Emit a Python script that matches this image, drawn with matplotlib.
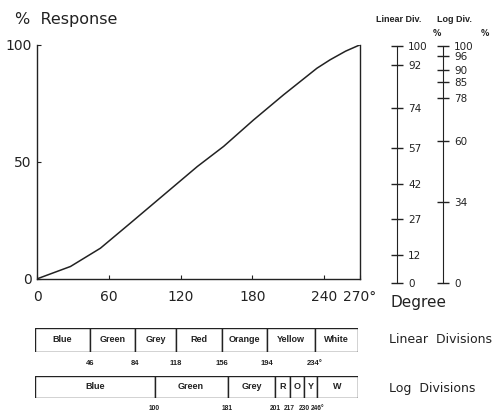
import numpy as np
import matplotlib.pyplot as plt

# response curve
deg = [0, 28, 53, 78, 106, 134, 156, 181, 206, 234, 245, 258, 270]
pct = [0, 5.3, 13.1, 23.8, 35.9, 48.0, 56.6, 67.9, 78.6, 90.0, 93.6, 97.3, 100]

# side scales (percent)
lin_div = [0, 12, 27, 42, 57, 74, 92, 100]
log_div = [0, 34, 60, 78, 85, 90, 96, 100]

# colour bands
lin_names = ['Blue', 'Green', 'Grey', 'Red', 'Orange', 'Yellow', 'White']
lin_edges = [0, 46, 84, 118, 156, 194, 234, 270]
lin_labels = ['46', '84', '118', '156', '194', '234\u00b0']

log_names = ['Blue', 'Green', 'Grey', 'R', 'O', 'Y', 'W']
log_edges = [0, 100, 161, 201, 213, 225, 236, 270]  # as drawn
log_labels = ['100', '181', '201', '217', '230', '246\u00b0']

plt.rcParams['font.family'] = 'DejaVu Sans'
ink = '#222222'
small = 'Liberation Sans'  # narrower digits for the cramped labels

fig = plt.figure(figsize=(5, 4.15), dpi=100)

# main plot
ax = fig.add_axes([0.074, 0.328, 0.646, 0.564])
ax.plot(deg, pct, color=ink, lw=1.1)
ax.set_xlim(0, 270)
ax.set_ylim(0, 100)
ax.spines['top'].set_visible(False)
for s in ['left', 'bottom', 'right']:
    ax.spines[s].set_color(ink)
    ax.spines[s].set_linewidth(1.0)
ax.set_xticks([0, 60, 120, 180, 240, 270])
ax.set_xticklabels(['0', '60', '120', '180', '240', '270\u00b0'])
ax.set_yticks([0, 50, 100])
ax.tick_params(axis='x', direction='in', length=3, pad=8, labelsize=10, colors=ink)
ax.tick_params(axis='y', direction='in', length=3, pad=4, labelsize=10, colors=ink)
ax.tick_params(axis='y', which='both', right=False)
fig.text(0.03, 0.952, '%  Response', fontsize=11.5, color=ink, va='center')
fig.text(0.78, 0.272, 'Degree', fontsize=11, color=ink, va='center')

# linear and log division scales
for xpos, vals, head, lx in [(0.792, lin_div, 'Linear Div.', 0.752),
                             (0.884, log_div, 'Log Div.', 0.874)]:
    sx = fig.add_axes([xpos, 0.318, 0.001, 0.571])
    sx.set_ylim(0, 100)
    sx.set_xticks([])
    for s in ['top', 'bottom', 'left']:
        sx.spines[s].set_visible(False)
    sx.spines['right'].set_color(ink)
    sx.yaxis.tick_right()
    sx.set_yticks(vals)
    sx.tick_params(axis='y', direction='inout', length=9, width=1.0,
                   pad=4, labelsize=7.5, colors=ink)
    fig.text(lx, 0.953, head, fontsize=6.5, fontweight='bold', color=ink,
             va='center', family=small)
fig.text(0.866, 0.92, '%', fontsize=6, fontweight='bold', color=ink, va='center')
fig.text(0.962, 0.92, '%', fontsize=6, fontweight='bold', color=ink, va='center')

# colour band bars
def band(rect, names, edges, labels, label_y, fs):
    bx = fig.add_axes(rect)
    widths = np.diff(edges)
    bx.barh(0, widths, left=edges[:-1], height=1, color='white',
            edgecolor=ink, linewidth=1.0)
    for n, l, w in zip(names, edges[:-1], widths):
        bx.text(l + w / 2, 0, n, ha='center', va='center', fontsize=6.5,
                fontweight='bold', color=ink, family=small)
    for e, t in zip(edges[1:-1], labels):
        bx.text(e, label_y, t, ha='center', va='center', fontsize=fs,
                fontweight='bold', color=ink, family=small)
    bx.set_xlim(0, 270)
    bx.set_ylim(-0.5, 0.5)
    bx.axis('off')
    return bx

band([0.07, 0.152, 0.646, 0.058], lin_names, lin_edges, lin_labels, -1.0, 5.5)
band([0.07, 0.041, 0.646, 0.053], log_names, log_edges, log_labels, -1.0, 4.8)

fig.text(0.778, 0.181, 'Linear  Divisions', fontsize=9, color=ink, va='center')
fig.text(0.778, 0.065, 'Log  Divisions', fontsize=9, color=ink, va='center')

fig.savefig('out.png', dpi=100)
